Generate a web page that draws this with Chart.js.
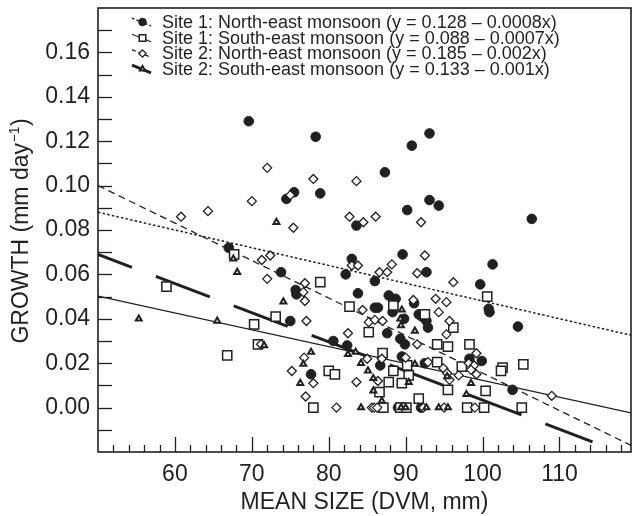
<!DOCTYPE html>
<html><head><meta charset="utf-8">
<script src="https://cdn.jsdelivr.net/npm/chart.js@4/dist/chart.umd.min.js"></script>
<style>html,body{margin:0;padding:0;background:#fff;}canvas{display:block;}</style>
</head><body>
<canvas id="c" width="639" height="516"></canvas>
<script>
// ---- data ----
const seriesLabels = [
  'Site 1: North-east monsoon (y = 0.128 \u2013 0.0008x)',
  'Site 1: South-east monsoon (y = 0.088 \u2013 0.0007x)',
  'Site 2: North-east monsoon (y = 0.185 \u2013 0.002x)',
  'Site 2: South-east monsoon (y = 0.133 \u2013 0.001x)'
];
const s1neSize = [69.6,74.5,75.5,67.0,73.8,75.7,75.8,75.0,78.3,93.1,90.8,87.3,78.9,93.1,94.3,90.2,83.6,83.0,89.6,82.2,86.0,92.7,83.8,87.8,88.7,86.0,86.4,88.3,91.1,91.7,92.1,92.7,89.8,92.9,87.6,80.6,82.4,89.3,89.9,89.5,86.7,92.5,77.7,106.4,101.3,99.7,100.8,100.9,104.6,98.3,99.9,103.9,89.0,92.0];
const s1neGrowth = [0.129,0.094,0.097,0.072,0.061,0.053,0.051,0.039,0.122,0.1235,0.118,0.106,0.0965,0.0935,0.091,0.089,0.082,0.067,0.069,0.060,0.057,0.061,0.0515,0.0505,0.049,0.045,0.045,0.043,0.047,0.042,0.041,0.039,0.040,0.036,0.0335,0.030,0.028,0.031,0.0285,0.023,0.019,0.020,0.015,0.085,0.0645,0.0555,0.0445,0.043,0.0365,0.022,0.021,0.008,0.0,0.0];

const s1seSize = [67.7,58.9,73.1,70.3,70.8,66.8,78.9,82.7,88.4,92.5,96.2,85.2,87.0,94.1,95.5,94.1,88.4,90.2,90.4,80.0,80.8,87.8,89.5,86.6,91.7,95.5,100.6,98.3,97.3,102.6,102.4,105.3,100.4,78.0,87.1,89.3,90.1,98.0,100.2,105.1];
const s1seGrowth = [0.069,0.0545,0.041,0.0375,0.0285,0.0235,0.0565,0.0455,0.046,0.042,0.036,0.034,0.0245,0.0285,0.0275,0.0205,0.0165,0.019,0.0145,0.0165,0.015,0.0115,0.011,0.007,0.004,0.008,0.050,0.0285,0.0185,0.018,0.0165,0.0195,0.0075,0,0,0,0,0,0,0];

const s2neSize = [72.0,70.0,75.0,75.4,60.8,64.3,72.4,71.3,72.0,71.2,75.2,78.0,83.6,82.7,84.5,86.1,92.0,92.5,83.0,83.8,88.2,86.6,87.6,91.5,96.2,76.9,76.7,76.9,84.4,91.0,93.9,95.3,94.3,95.7,77.1,85.2,86.0,87.0,82.5,95.3,91.5,90.0,86.9,85.0,92.9,94.9,95.4,95.7,76.8,78.0,83.6,86.4,77.0,99.2,98.2,98.9,98.5,99.2,96.9,109.0,81.0,85.6,85.9,86.3,92.3,95.0,99.0];
const s2neGrowth = [0.108,0.093,0.0957,0.081,0.086,0.0885,0.0685,0.0665,0.058,0.0285,0.0165,0.103,0.102,0.086,0.0835,0.086,0.0835,0.0685,0.064,0.064,0.0645,0.061,0.061,0.0605,0.0565,0.056,0.052,0.048,0.044,0.0485,0.049,0.0475,0.043,0.039,0.039,0.0385,0.0395,0.039,0.0335,0.033,0.0285,0.0225,0.022,0.022,0.0205,0.0177,0.0155,0.0125,0.0225,0.011,0.0115,0.012,0.005,0.0245,0.020,0.019,0.017,0.015,0.0145,0.0053,0,0,0,0,0,0,0];

const s2seSize = [73.2,67.6,68.1,74.1,55.3,65.5,71.6,89.5,89.3,89.4,91.2,82.5,83.5,84.2,91.2,77.7,76.7,76.3,85.1,85.8,90.4,85.8,86.9,98.5,97.9,95.4,84.2,89.4,90.0,92.7,94.3,95.5];
const s2seGrowth = [0.0835,0.067,0.061,0.0477,0.040,0.039,0.028,0.044,0.040,0.037,0.0345,0.024,0.025,0.020,0.0196,0.025,0.0196,0.011,0.0166,0.0132,0.0114,0.0076,0.003,0.011,0.006,0.014,0,0,0,0,0,0];

// fitted lines (end points)
const s1neFitSize = [50, 119.3], s1neFitGrowth = [0.088, 0.0326];
const s1seFitSize = [50, 119.3], s1seFitGrowth = [0.0502, -0.0024];
const s2neFitSize = [50, 119.3], s2neFitGrowth = [0.100, -0.017];
const s2seFitSize = [50, 114.3], s2seFitGrowth = [0.069, -0.0154];

const xTickValues = [60, 70, 80, 90, 100, 110];
const yTickValues = [0, 0.02, 0.04, 0.06, 0.08, 0.10, 0.12, 0.14, 0.16];
const xMinorStep = 2, yMinorStep = 0.01;
const xTitle = 'MEAN SIZE (DVM, mm)';
const yTitleMain = 'GROWTH (mm day', yTitleSup = '\u22121', yTitleEnd = ')';

// ---- styling ----
const INK = '#231f20';
const FONT = "'Liberation Sans', Arial, Helvetica, sans-serif";
Chart.defaults.font.family = FONT;
Chart.defaults.color = INK;

const pts = (xs, ys) => xs.map((x, i) => ({x: x, y: ys[i]}));

const lineStyles = [
  {borderWidth: 1.5, borderDash: [2.5, 2.2], borderDashOffset: 0},
  {borderWidth: 1.2, borderDash: [], borderDashOffset: 0},
  {borderWidth: 1.3, borderDash: [7, 4.5], borderDashOffset: 0},
  {borderWidth: 3, borderDash: [57.7, 25.6], borderDashOffset: 21.4}
];
const markerStyles = [
  {pointStyle: 'circle', radius: 4.8, borderWidth: 1, fill: INK},
  {pointStyle: 'rect', radius: 6.5, borderWidth: 1.5, fill: '#ffffff'},
  {pointStyle: 'rectRot', radius: 4.5, borderWidth: 1.3, fill: '#ffffff'},
  {pointStyle: 'triangle', radius: 3.4, borderWidth: 2, fill: '#ffffff'}
];

function fitDs(xs, ys, st) {
  return {type: 'line', data: pts(xs, ys), showLine: true, pointRadius: 0, borderColor: INK,
    borderWidth: st.borderWidth, borderDash: st.borderDash, borderDashOffset: st.borderDashOffset,
    fill: false, tension: 0, order: 10, borderCapStyle: 'butt'};
}
function ptDs(label, xs, ys, st, ord) {
  return {label: label, data: pts(xs, ys), showLine: false, pointStyle: st.pointStyle,
    pointRadius: st.radius, pointBorderWidth: st.borderWidth, pointBorderColor: INK,
    pointBackgroundColor: st.fill, order: ord};
}

const datasets = [
  fitDs(s1neFitSize, s1neFitGrowth, lineStyles[0]),
  fitDs(s1seFitSize, s1seFitGrowth, lineStyles[1]),
  fitDs(s2neFitSize, s2neFitGrowth, lineStyles[2]),
  fitDs(s2seFitSize, s2seFitGrowth, lineStyles[3]),
  ptDs(seriesLabels[0], s1neSize, s1neGrowth, markerStyles[0], 4),
  ptDs(seriesLabels[1], s1seSize, s1seGrowth, markerStyles[1], 3),
  ptDs(seriesLabels[2], s2neSize, s2neGrowth, markerStyles[2], 2),
  ptDs(seriesLabels[3], s2seSize, s2seGrowth, markerStyles[3], 1)
];

function drawMarker(ctx, st, x, y, r) {
  ctx.save();
  ctx.lineWidth = st.borderWidth;
  ctx.strokeStyle = INK;
  ctx.fillStyle = st.fill;
  ctx.beginPath();
  if (st.pointStyle === 'circle') {
    ctx.arc(x, y, r, 0, Math.PI * 2);
  } else if (st.pointStyle === 'rect') {
    const s = r * Math.SQRT1_2;
    ctx.rect(x - s, y - s, 2 * s, 2 * s);
  } else if (st.pointStyle === 'rectRot') {
    ctx.moveTo(x, y - r); ctx.lineTo(x + r, y); ctx.lineTo(x, y + r); ctx.lineTo(x - r, y); ctx.closePath();
  } else {
    for (let k = 0; k < 3; k++) {
      const a = k * 2 * Math.PI / 3;
      const px = x + Math.sin(a) * r, py = y - Math.cos(a) * r;
      if (k === 0) ctx.moveTo(px, py); else ctx.lineTo(px, py);
    }
    ctx.closePath();
  }
  ctx.fill();
  ctx.stroke();
  ctx.restore();
}

const frame = {
  id: 'frame',
  beforeDatasetsDraw(chart) {
    const {ctx, chartArea: a, scales: {x, y}} = chart;
    ctx.save();
    ctx.strokeStyle = INK;
    ctx.lineWidth = 1.3;
    for (let v = y.min + yMinorStep; v < y.max - 1e-9; v += yMinorStep) {
      const py = Math.round(y.getPixelForValue(v)) + 0.5;
      ctx.beginPath(); ctx.moveTo(a.left, py); ctx.lineTo(a.left + 14, py); ctx.stroke();
    }
    for (let v = x.min + xMinorStep; v < x.max; v += xMinorStep) {
      const px = Math.round(x.getPixelForValue(v)) + 0.5;
      const major = Math.abs(v / 10 - Math.round(v / 10)) < 1e-6;
      ctx.beginPath(); ctx.moveTo(px, a.bottom); ctx.lineTo(px, a.bottom - (major ? 15 : 7)); ctx.stroke();
    }
    ctx.lineWidth = 1.6;
    ctx.strokeRect(a.left, a.top, a.right - a.left, a.bottom - a.top);
    ctx.restore();
  },
  afterDatasetsDraw(chart) {
    const ctx = chart.ctx;
    ctx.save();
    const rows = [22, 38, 53.5, 69];
    ctx.font = '18px ' + FONT;
    ctx.fillStyle = INK;
    ctx.textBaseline = 'middle';
    ctx.textAlign = 'left';
    for (let i = 0; i < 4; i++) {
      const yc = rows[i];
      const ls = lineStyles[i];
      ctx.save();
      ctx.strokeStyle = INK;
      ctx.lineWidth = ls.borderWidth;
      ctx.setLineDash(i === 3 ? [] : (i === 2 ? [4, 3] : ls.borderDash));
      ctx.beginPath(); ctx.moveTo(132, yc - 3.8); ctx.lineTo(151, yc + 3.8); ctx.stroke();
      ctx.restore();
      const ms = markerStyles[i];
      const r = [3.8, 4.6, 3.6, 3.0][i];
      drawMarker(ctx, ms, 142.5, yc, r);
      ctx.fillStyle = INK;
      ctx.fillText(seriesLabels[i], 162, yc + 1);
    }
    ctx.restore();
  },
  afterDraw(chart) {
    const ctx = chart.ctx;
    const a = chart.chartArea;
    ctx.save();
    ctx.fillStyle = INK;
    ctx.translate(22, (a.top + a.bottom) / 2 + 1);
    ctx.rotate(-Math.PI / 2);
    ctx.textBaseline = 'middle';
    ctx.textAlign = 'left';
    const big = '23px ' + FONT, small = '14px ' + FONT;
    ctx.font = big; const w1 = ctx.measureText(yTitleMain).width; const w3 = ctx.measureText(yTitleEnd).width;
    ctx.font = small; const w2 = ctx.measureText(yTitleSup).width;
    let sx = -(w1 + w2 + w3 + 1) / 2;
    ctx.font = big; ctx.fillText(yTitleMain, sx, 0); sx += w1 + 0.5;
    ctx.font = small; ctx.fillText(yTitleSup, sx, -7); sx += w2 + 0.5;
    ctx.font = big; ctx.fillText(yTitleEnd, sx, 0);
    ctx.restore();
  }
};

new Chart(document.getElementById('c'), {
  type: 'scatter',
  data: {datasets: datasets},
  options: {
    animation: false, responsive: false, devicePixelRatio: 1,
    layout: {padding: {top: 6.5, right: 2, left: 0, bottom: 0}},
    plugins: {legend: {display: false}, tooltip: {enabled: false}},
    elements: {line: {tension: 0}},
    scales: {
      x: {
        type: 'linear', min: 50, max: 119.3,
        afterBuildTicks: s => { s.ticks = xTickValues.map(v => ({value: v})); },
        afterFit: s => { s.height = 64; s.paddingLeft = 0; s.paddingRight = 0; s.paddingTop = 0; s.paddingBottom = 0; },
        grid: {display: false, drawTicks: false, tickLength: 0},
        border: {display: false},
        ticks: {padding: 9, font: {size: 23}, color: INK, maxRotation: 0, autoSkip: false,
                callback: v => String(v)},
        title: {display: true, text: xTitle, font: {size: 23}, color: INK, padding: 0}
      },
      y: {
        type: 'linear', min: -0.02, max: 0.18,
        afterBuildTicks: s => { s.ticks = yTickValues.map(v => ({value: v})); },
        afterFit: s => { s.width = 98; s.paddingTop = 0; s.paddingBottom = 0; s.paddingLeft = 0; s.paddingRight = 0; },
        grid: {display: false, drawTicks: false, tickLength: 0},
        border: {display: false},
        ticks: {padding: 8, font: {size: 23}, color: INK, autoSkip: false,
                callback: v => Number(v).toFixed(2)}
      }
    }
  },
  plugins: [frame]
});
</script>
</body></html>
